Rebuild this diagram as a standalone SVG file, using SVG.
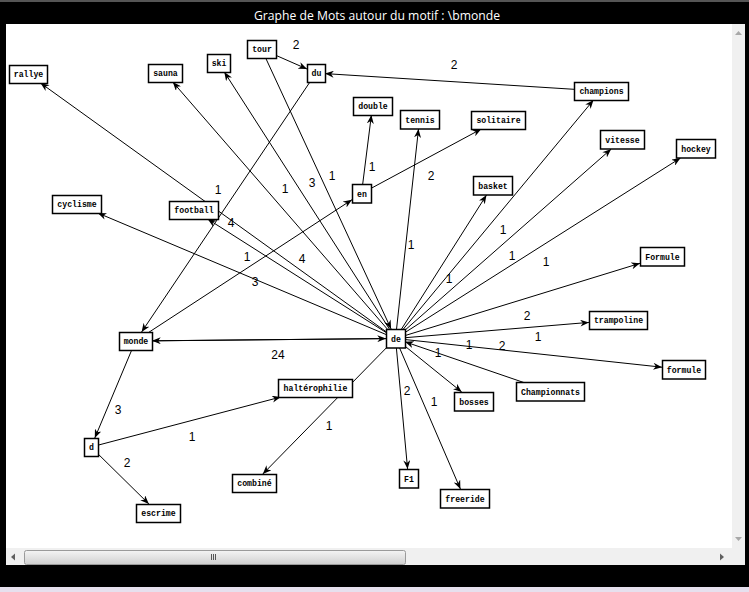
<svg xmlns="http://www.w3.org/2000/svg" width="749" height="592" viewBox="0 0 749 592">
<style>
.nd rect{fill:#fff;stroke:#000;stroke-width:1.5}
.nd text{font-family:"Liberation Mono","DejaVu Sans Mono",monospace;font-weight:bold;font-size:8.2px;fill:#000;text-anchor:middle}
#edges line{stroke:#000;stroke-width:1;fill:none}
#edges line.a{marker-end:url(#arr)}
.lbl text{font-family:"Liberation Sans",Arial,sans-serif;font-size:12px;fill:#000;text-anchor:middle}
</style>
<defs>
<marker id="arr" viewBox="0 0 10 8" markerUnits="userSpaceOnUse" markerWidth="9" markerHeight="7" refX="10" refY="4" orient="auto">
<path d="M0,0 L10,4 L0,8 L3,4 z" fill="#000"/>
</marker>
<linearGradient id="thumb" x1="0" y1="0" x2="0" y2="1">
<stop offset="0" stop-color="#f4f4f4"/><stop offset="0.5" stop-color="#e2e2e2"/><stop offset="1" stop-color="#cfcfcf"/>
</linearGradient>
</defs>
<!-- window chrome -->
<rect x="0" y="0" width="749" height="592" fill="#000"/>
<rect x="0" y="0" width="749" height="2" fill="#555"/>
<rect x="0" y="587" width="749" height="5" fill="#e6e0ee"/>
<text x="377" y="19.5" font-family="'Open Sans','Liberation Sans',sans-serif" font-size="12.5" fill="#fff" text-anchor="middle" textLength="246" lengthAdjust="spacingAndGlyphs">Graphe de Mots autour du motif : \bmonde</text>
<rect x="6" y="24" width="726" height="524" fill="#fff"/>
<rect x="732" y="24" width="13" height="541" fill="#f0f0f0"/>
<rect x="6" y="548" width="739" height="17" fill="#f0f0f0"/>
<path d="M735,35 L738.5,31 L742,35 z" fill="#a8a8a8"/>
<path d="M735,537 L738.5,541 L742,537 z" fill="#a8a8a8"/>
<path d="M15,557 L11,553.5 L11,560.5 z" transform="rotate(180 13 557)" fill="#606060"/>
<path d="M724,557 L720,553.5 L720,560.5 z" fill="#606060"/>
<rect x="24.5" y="550.5" width="381" height="14" rx="2" fill="url(#thumb)" stroke="#9a9a9a"/>
<path d="M211.5,554 v6 M213.5,554 v6 M215.5,554 v6" stroke="#555" stroke-width="1"/>

<g id="edges">
<line class="a" x1="261.5" y1="49" x2="307" y2="69"/>
<line class="a" x1="601" y1="91" x2="325" y2="73.6"/>
<line class="a" x1="316" y1="73" x2="141.6" y2="332"/>
<line class="a" x1="261.5" y1="49" x2="391.1" y2="329"/>
<line class="a" x1="395.5" y1="338.5" x2="224.3" y2="72"/>
<line class="a" x1="395.5" y1="338.5" x2="172.8" y2="82"/>
<line class="a" x1="395.5" y1="338.5" x2="40.5" y2="83"/>
<line class="a" x1="395.5" y1="338.5" x2="97.8" y2="213"/>
<line class="a" x1="395.5" y1="338.5" x2="207.6" y2="219"/>
<line class="a" x1="395.5" y1="338.5" x2="152" y2="340.8"/>
<line class="a" x1="135.5" y1="341" x2="386" y2="338.6"/>
<line class="a" x1="135.5" y1="341" x2="352" y2="199.7"/>
<line class="a" x1="361.5" y1="193.5" x2="371.4" y2="115"/>
<line class="a" x1="361.5" y1="193.5" x2="481.3" y2="129"/>
<line class="a" x1="395.5" y1="338.5" x2="418.5" y2="129"/>
<line class="a" x1="395.5" y1="338.5" x2="486.5" y2="195"/>
<line class="a" x1="395.5" y1="338.5" x2="593.5" y2="100"/>
<line class="a" x1="395.5" y1="338.5" x2="611.2" y2="149"/>
<line class="a" x1="395.5" y1="338.5" x2="680.5" y2="158"/>
<line class="a" x1="395.5" y1="338.5" x2="640" y2="263.3"/>
<line class="a" x1="395.5" y1="338.5" x2="589" y2="322.4"/>
<line class="a" x1="395.5" y1="338.5" x2="662" y2="367.2"/>
<line class="a" x1="550" y1="391.5" x2="405" y2="341.8"/>
<line class="a" x1="395.5" y1="338.5" x2="461.7" y2="392"/>
<line class="a" x1="395.5" y1="338.5" x2="460.4" y2="489"/>
<line class="a" x1="395.5" y1="338.5" x2="407.6" y2="469"/>
<line class="a" x1="395.5" y1="338.5" x2="262.8" y2="474"/>
<line class="a" x1="135.5" y1="341" x2="94.8" y2="438"/>
<line class="a" x1="91" y1="447" x2="280.8" y2="397"/>
<line class="a" x1="91" y1="447" x2="148.9" y2="504"/>
</g>

<g class="lbl" id="labels">
<text x="296" y="49">2</text>
<text x="454" y="69">2</text>
<text x="372" y="171">1</text>
<text x="431" y="180">2</text>
<text x="332" y="180">1</text>
<text x="312" y="187">3</text>
<text x="285" y="193">1</text>
<text x="218" y="194">1</text>
<text x="231" y="227">4</text>
<text x="247" y="261">1</text>
<text x="302" y="263">4</text>
<text x="255" y="286">3</text>
<text x="411" y="249">1</text>
<text x="449" y="283">1</text>
<text x="503" y="234">1</text>
<text x="512" y="260">1</text>
<text x="546" y="266">1</text>
<text x="527" y="320">2</text>
<text x="538" y="341">1</text>
<text x="469" y="349">1</text>
<text x="502" y="350">2</text>
<text x="438" y="357">1</text>
<text x="278" y="359">24</text>
<text x="118" y="414">3</text>
<text x="192" y="441">1</text>
<text x="127" y="467">2</text>
<text x="329" y="430">1</text>
<text x="407" y="395">2</text>
<text x="434" y="406">1</text>
</g>

<g id="n_rallye" class="nd"><rect x="9.5" y="65.5" width="38" height="18"/><text x="28.5" y="77.3">rallye</text></g>
<g id="n_sauna" class="nd"><rect x="148.5" y="64.5" width="34" height="18"/><text x="165.5" y="76.3">sauna</text></g>
<g id="n_ski" class="nd"><rect x="207.5" y="54.5" width="23" height="18"/><text x="219" y="66.3">ski</text></g>
<g id="n_tour" class="nd"><rect x="247.5" y="40.5" width="29" height="18"/><text x="262" y="52.3">tour</text></g>
<g id="n_du" class="nd"><rect x="307.5" y="64.5" width="18" height="18"/><text x="316.5" y="76.3">du</text></g>
<g id="n_double" class="nd"><rect x="353.5" y="97.5" width="39" height="18"/><text x="373" y="109.3">double</text></g>
<g id="n_tennis" class="nd"><rect x="400.5" y="110.5" width="39" height="18.5"/><text x="420" y="122.5">tennis</text></g>
<g id="n_solitaire" class="nd"><rect x="471.5" y="111.5" width="54" height="18"/><text x="498.5" y="123.3">solitaire</text></g>
<g id="n_champions" class="nd"><rect x="574.5" y="82.5" width="54" height="18"/><text x="601.5" y="94.3">champions</text></g>
<g id="n_vitesse" class="nd"><rect x="600.5" y="130.5" width="44" height="18.5"/><text x="622.5" y="142.5">vitesse</text></g>
<g id="n_hockey" class="nd"><rect x="676.5" y="139.5" width="39" height="18.5"/><text x="696" y="151.5">hockey</text></g>
<g id="n_basket" class="nd"><rect x="473.5" y="176.5" width="39" height="18.5"/><text x="493" y="188.5">basket</text></g>
<g id="n_en" class="nd"><rect x="352.5" y="184.5" width="19" height="18.5"/><text x="362" y="196.5">en</text></g>
<g id="n_cyclisme" class="nd"><rect x="52.5" y="195.5" width="49" height="18"/><text x="77" y="207.3">cyclisme</text></g>
<g id="n_football" class="nd"><rect x="169.5" y="201.5" width="49" height="18"/><text x="194" y="213.3">football</text></g>
<g id="n_Formule" class="nd"><rect x="640.5" y="247.5" width="44" height="18.5"/><text x="662.5" y="259.5">Formule</text></g>
<g id="n_trampoline" class="nd"><rect x="589.5" y="311.5" width="58" height="18"/><text x="618.5" y="323.3">trampoline</text></g>
<g id="n_formule" class="nd"><rect x="662.5" y="360.5" width="43" height="18.5"/><text x="684" y="372.5">formule</text></g>
<g id="n_de" class="nd"><rect x="386.5" y="329.5" width="19" height="18.5"/><text x="396" y="341.5">de</text></g>
<g id="n_Championnats" class="nd"><rect x="516.5" y="382.5" width="68" height="18.5"/><text x="550.5" y="394.5">Championnats</text></g>
<g id="n_monde" class="nd"><rect x="119.5" y="332.5" width="33" height="18"/><text x="136" y="344.3">monde</text></g>
<g id="n_halterophilie" class="nd"><rect x="278.5" y="379.5" width="74" height="18"/><text x="315.5" y="391.3">haltérophilie</text></g>
<g id="n_bosses" class="nd"><rect x="454.5" y="392.5" width="39" height="18.5"/><text x="474" y="404.5">bosses</text></g>
<g id="n_d" class="nd"><rect x="84.5" y="438.5" width="14" height="18"/><text x="91.5" y="450.3">d</text></g>
<g id="n_combine" class="nd"><rect x="232.5" y="474.5" width="44" height="18"/><text x="254.5" y="486.3">combiné</text></g>
<g id="n_escrime" class="nd"><rect x="136.5" y="504.5" width="44" height="18"/><text x="158.5" y="516.3">escrime</text></g>
<g id="n_F1" class="nd"><rect x="399.5" y="469.5" width="19" height="18.5"/><text x="409" y="481.5">F1</text></g>
<g id="n_freeride" class="nd"><rect x="440.5" y="489.5" width="49" height="18.5"/><text x="465" y="501.5">freeride</text></g>
</svg>
